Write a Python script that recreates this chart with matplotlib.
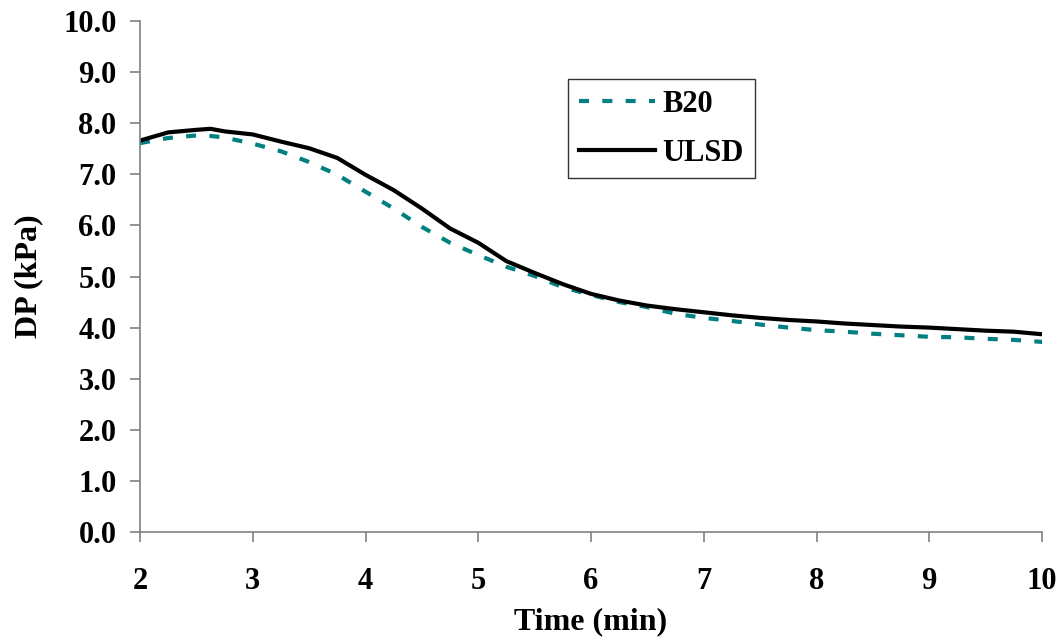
import numpy as np
import matplotlib
matplotlib.use("Agg")
import matplotlib.pyplot as plt
from matplotlib.ticker import FormatStrFormatter

plt.rcParams["font.family"] = ["Liberation Serif", "DejaVu Serif"]
plt.rcParams["font.weight"] = "bold"

# time (min)
time = [2.0, 2.25, 2.5, 2.625, 2.75, 3.0, 3.25, 3.5, 3.75, 4.0, 4.25, 4.5, 4.75,
        5.0, 5.25, 5.5, 5.75, 6.0, 6.25, 6.5, 6.75, 7.0, 7.25, 7.5, 7.75,
        8.0, 8.25, 8.5, 8.75, 9.0, 9.25, 9.5, 9.75, 10.0]

# differential pressure (kPa)
b20 = [7.61, 7.71, 7.76, 7.75, 7.72, 7.60, 7.45, 7.24, 6.99, 6.66, 6.33, 5.97, 5.66,
       5.42, 5.19, 5.01, 4.79, 4.64, 4.50, 4.40, 4.27, 4.19, 4.13, 4.06, 4.00,
       3.95, 3.92, 3.88, 3.85, 3.82, 3.81, 3.78, 3.76, 3.72]
ulsd = [7.66, 7.82, 7.87, 7.89, 7.84, 7.78, 7.64, 7.51, 7.32, 6.99, 6.69, 6.33, 5.94,
        5.66, 5.30, 5.07, 4.85, 4.66, 4.53, 4.43, 4.36, 4.30, 4.24, 4.19, 4.15,
        4.12, 4.08, 4.05, 4.02, 4.00, 3.97, 3.94, 3.92, 3.87]

fig = plt.figure(figsize=(10.63, 6.44), dpi=100)
ax = fig.add_axes([0.1317, 0.1739, 0.9803 - 0.1317, 0.9674 - 0.1739])

ax.plot(time, b20, color="#008080", lw=3.0, linestyle=(0, (2.4, 3.2)),
        dash_capstyle="butt", label="B20")
ax.plot(time, ulsd, color="black", lw=3.0, label="ULSD")

ax.set_xlim(2, 10)
ax.set_ylim(0, 10)
ax.set_xticks(range(2, 11))
ax.set_yticks(np.arange(0, 10.1, 1.0))
ax.yaxis.set_major_formatter(FormatStrFormatter("%.1f"))

for side in ["top", "right"]:
    ax.spines[side].set_visible(False)
for side in ["left", "bottom"]:
    ax.spines[side].set_color("#808080")
    ax.spines[side].set_linewidth(1.2)

ax.tick_params(axis="both", direction="out", length=7, width=1.2, color="#808080",
               labelsize=22)
ax.tick_params(axis="x", pad=18)
ax.tick_params(axis="y", pad=10)
for lab in ax.get_xticklabels() + ax.get_yticklabels():
    lab.set_fontweight("bold")

ax.set_xlabel("Time (min)", fontsize=23, fontweight="bold", labelpad=8)
ax.set_ylabel("DP (kPa)", fontsize=23, fontweight="bold", labelpad=14)

leg = ax.legend(loc="upper left", bbox_to_anchor=(0.4745, 0.886), borderaxespad=0,
                prop={"size": 22, "weight": "bold"}, handlelength=2.5,
                handletextpad=0.25, borderpad=0.35, labelspacing=0.65,
                fancybox=False, frameon=True)
leg.get_frame().set_edgecolor("black")
leg.get_frame().set_linewidth(1.0)

plt.savefig("out.png", dpi=100)
